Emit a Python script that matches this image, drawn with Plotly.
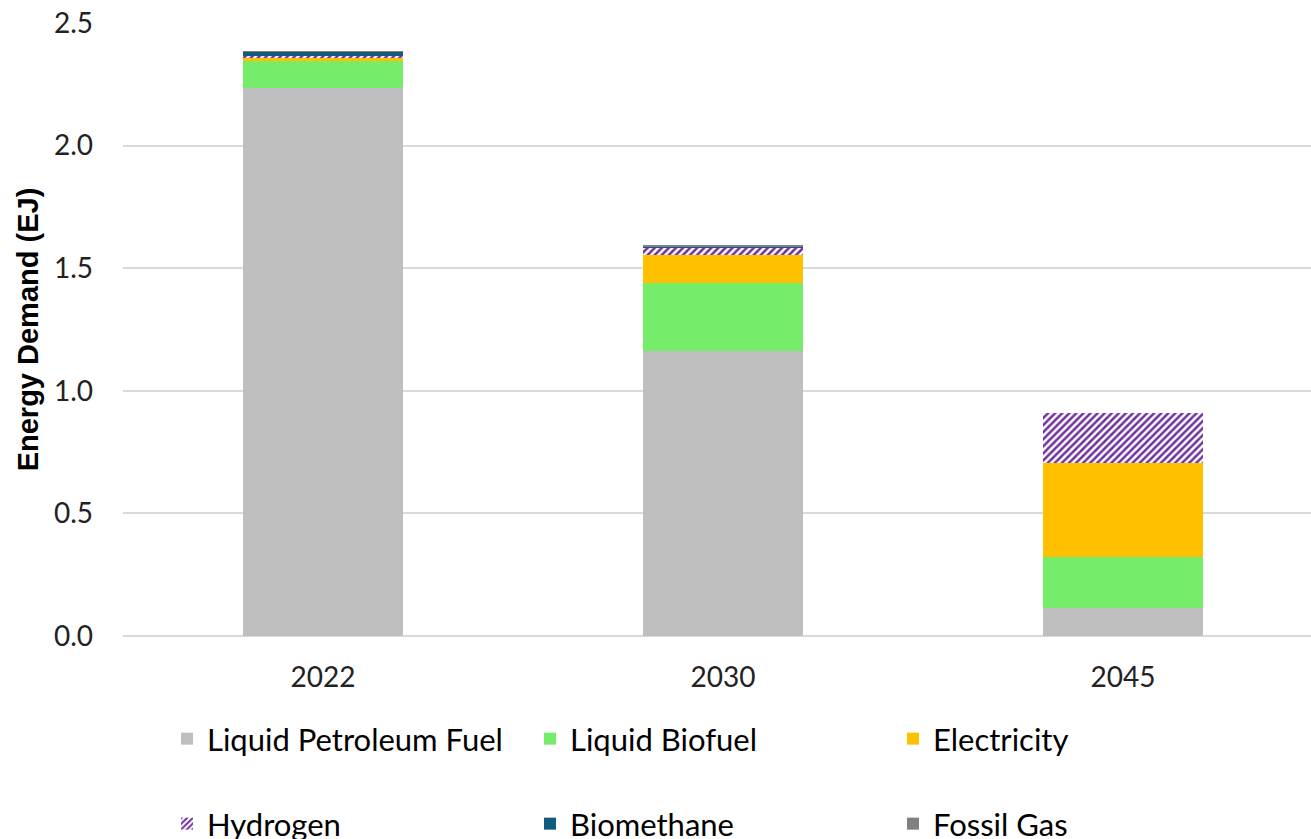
import plotly.graph_objects as go

years = ["2022", "2030", "2045"]
petroleum = [2.235, 1.162, 0.114]
biofuel = [0.110, 0.277, 0.207]
electricity = [0.013, 0.113, 0.383]
hydrogen = [0.006, 0.031, 0.204]
biomethane = [0.018, 0.004, 0.0]
fossil_gas = [0.002, 0.007, 0.0]

series = [
    ("Liquid Petroleum Fuel", petroleum, "#BFBFBF", None, "legend"),
    ("Liquid Biofuel", biofuel, "#75EC6A", None, "legend"),
    ("Electricity", electricity, "#FFC000", None, "legend"),
    ("Hydrogen", hydrogen, "#FFFFFF", "/", "legend2"),
    ("Biomethane", biomethane, "#145A7C", None, "legend2"),
    ("Fossil Gas", fossil_gas, "#808080", None, "legend2"),
]

fig = go.Figure()
for name, vals, color, pat, lg in series:
    marker = dict(color=color, line=dict(width=0))
    if pat:
        marker["pattern"] = dict(shape=pat, fgcolor="#7030A0", bgcolor="#FFFFFF",
                                 size=5, solidity=0.5, fillmode="replace")
    fig.add_trace(go.Bar(x=years, y=vals, name=name, marker=marker, width=0.4,
                         legend=lg))

W, H = 1311, 839
ML, MT, MB = 123, 23, 203
PH = H - MT - MB
PW = W - ML


def py(p):
    return (H - MB - p) / PH


font_main = "Lato, 'Noto Sans', sans-serif"
legend_common = dict(orientation="h", xanchor="left",
                     x=(167 - ML) / PW, entrywidth=318, entrywidthmode="pixels",
                     font=dict(family=font_main, size=31, color="#000000"),
                     bgcolor="rgba(0,0,0,0)", traceorder="normal",
                     itemsizing="constant")
fig.update_layout(
    barmode="stack",
    width=W, height=H,
    margin=dict(l=ML, r=0, t=MT, b=MB, autoexpand=False),
    plot_bgcolor="white", paper_bgcolor="white",
    font=dict(family=font_main, size=28, color="#000000"),
    legend=dict(legend_common, y=py(739), yanchor="middle"),
    legend2=dict(legend_common, y=py(824), yanchor="middle"),
    xaxis=dict(type="category", range=[-0.5, 2.47], showgrid=False,
               tickfont=dict(size=28, family=font_main, color="#222222"),
               ticks="", showline=False, zeroline=False, automargin=False,
               ticklabelstandoff=22),
    yaxis=dict(range=[0, 2.5], dtick=0.5, tickformat=".1f",
               showgrid=True, gridcolor="#D9D9D9", gridwidth=2,
               zeroline=True, zerolinecolor="#D9D9D9", zerolinewidth=2,
               ticks="", tickfont=dict(size=28, family=font_main, color="#222222"),
               automargin=False, ticklabelstandoff=29,
               title=dict(text="<b>Energy Demand (EJ)</b>", standoff=6,
                          font=dict(family="'Liberation Sans', Arial, sans-serif", size=29, color="#000000"))),
)

fig.write_html("out.html", config={"displayModeBar": False},
               post_script="document.body.style.margin='0';document.body.style.overflow='hidden';")
